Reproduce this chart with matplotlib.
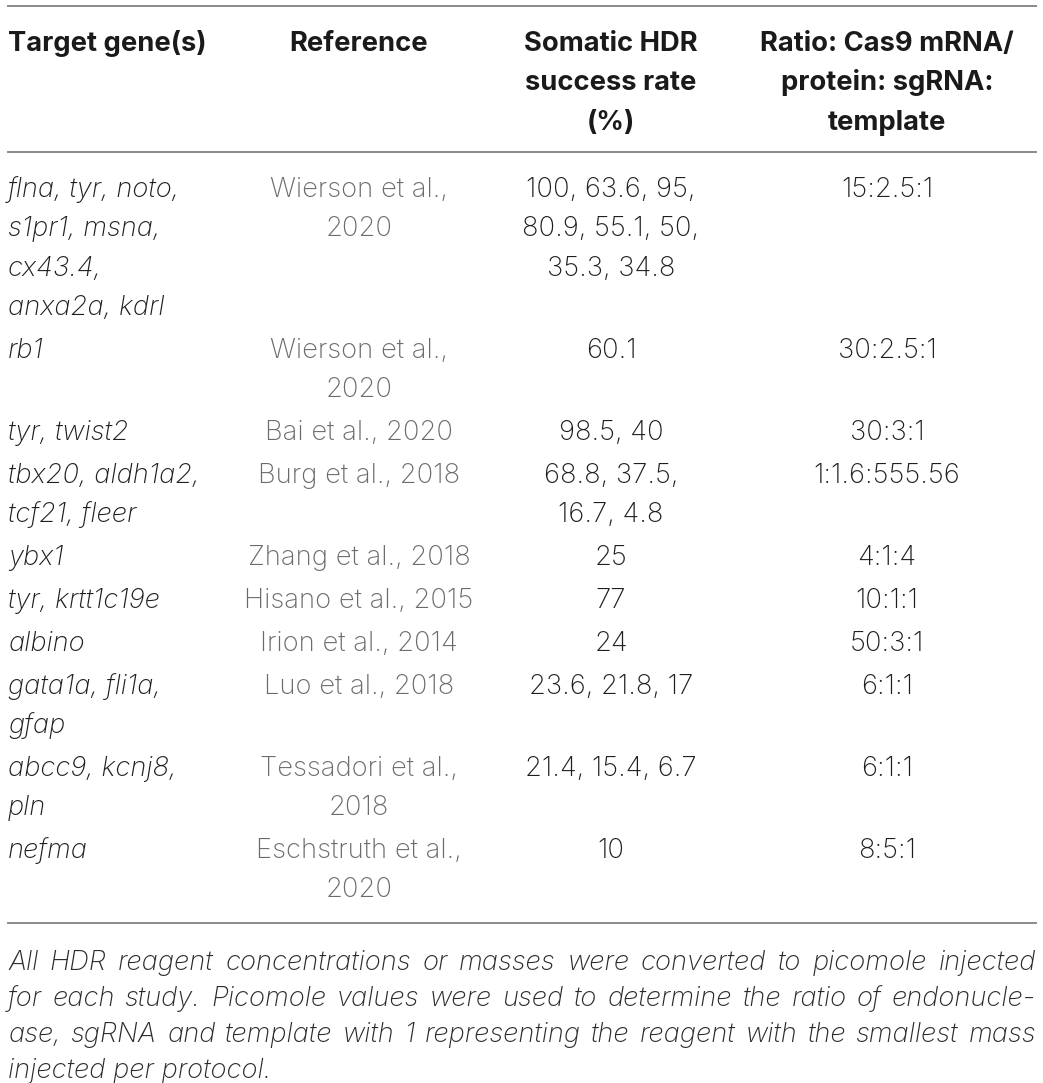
import matplotlib.pyplot as plt

plt.rcParams['font.family'] = ['Inter', 'Roboto', 'DejaVu Sans']

headers = ["Target gene(s)", "Reference", "Somatic HDR\nsuccess rate\n(%)",
           "Ratio: Cas9 mRNA/\nprotein: sgRNA:\ntemplate"]

genes = ["flna, tyr, noto,\ns1pr1, msna,\ncx43.4,\nanxa2a, kdrl",
         "rb1",
         "tyr, twist2",
         "tbx20, aldh1a2,\ntcf21, fleer",
         "ybx1",
         "tyr, krtt1c19e",
         "albino",
         "gata1a, fli1a,\ngfap",
         "abcc9, kcnj8,\npln",
         "nefma"]

refs = ["Wierson et al.,\n2020", "Wierson et al.,\n2020", "Bai et al., 2020",
        "Burg et al., 2018", "Zhang et al., 2018", "Hisano et al., 2015",
        "Irion et al., 2014", "Luo et al., 2018", "Tessadori et al.,\n2018",
        "Eschstruth et al.,\n2020"]

rates = ["100, 63.6, 95,\n80.9, 55.1, 50,\n35.3, 34.8", "60.1", "98.5, 40",
         "68.8, 37.5,\n16.7, 4.8", "25", "77", "24", "23.6, 21.8, 17",
         "21.4, 15.4, 6.7", "10"]

ratios = ["15:2.5:1", "30:2.5:1", "30:3:1", "1:1.6:555.56", "4:1:4",
          "10:1:1", "50:3:1", "6:1:1", "6:1:1", "8:5:1"]

footnote = ["All HDR reagent concentrations or masses were converted to picomole injected",
            "for each study. Picomole values were used to determine the ratio of endonucle-",
            "ase, sgRNA and template with 1 representing the reagent with the smallest mass",
            "injected per protocol."]

W, H = 1043, 1083
fig = plt.figure(figsize=(W / 100, H / 100), dpi=100)
ax = fig.add_axes([0, 0, 1, 1])
ax.set_xlim(0, W)
ax.set_ylim(H, 0)
ax.axis('off')

fs = 19.7
line_h = 39.3
row_pad = 3.6
left, right = 8, 1036
col_x = [left, 359, 611, 887]
col_ha = ['left', 'center', 'center', 'center']
rule_kw = dict(color='#8a8a8a', lw=1.4)


def put_lines(x, y0, txt, ha, **kw):
    for k, line in enumerate(txt.split("\n")):
        ax.text(x, y0 + k * line_h, line, ha=ha, va='baseline', fontsize=fs, **kw)


# header
ax.plot([left, right], [6, 6], **rule_kw)
for x, ha, h in zip(col_x, col_ha, headers):
    put_lines(x, 51, h, ha, fontweight='bold', color='#1a1a1a')
ax.plot([left, right], [152, 152], **rule_kw)

# body rows
y = 197
for g, r, s, q in zip(genes, refs, rates, ratios):
    put_lines(col_x[0], y, g, 'left', style='italic', fontweight='light', color='#1e1e1e')
    put_lines(col_x[1], y, r, 'center', fontweight='light', color='#6b6b6b')
    put_lines(col_x[2], y, s, 'center', fontweight='light', color='#1e1e1e')
    put_lines(col_x[3], y, q, 'center', fontweight='light', color='#1e1e1e')
    n = max(t.count("\n") + 1 for t in (g, r, s, q))
    y += n * line_h + row_pad

ax.plot([left, right], [923, 923], **rule_kw)

# footnote, justified
fig.canvas.draw()
rend = fig.canvas.get_renderer()
fn_kw = dict(fontsize=fs, style='italic', fontweight='light', color='#2a2a2a', va='baseline')
for k, line in enumerate(footnote):
    yb = 970 + k * 36
    words = line.split(" ")
    if k == len(footnote) - 1:
        ax.text(left, yb, line, ha='left', **fn_kw)
        continue
    arts = [ax.text(0, yb, w_, ha='left', **fn_kw) for w_ in words]
    widths = [a.get_window_extent(rend).width for a in arts]
    gap = (right - left - sum(widths)) / (len(words) - 1)
    x = left
    for a, wd in zip(arts, widths):
        a.set_x(x)
        x += wd + gap

fig.savefig("out.png", dpi=100, facecolor='white')
